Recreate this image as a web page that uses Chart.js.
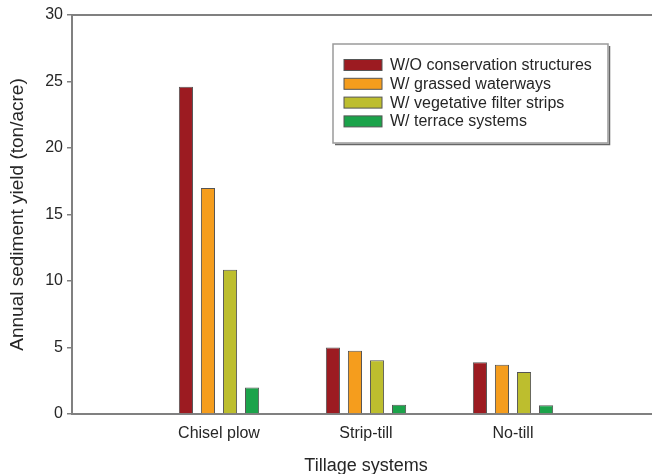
<!DOCTYPE html>
<html>
<head>
<meta charset="utf-8">
<script src="https://cdn.jsdelivr.net/npm/chart.js@4.4.1/dist/chart.umd.min.js"></script>
<style>
  html, body { margin: 0; padding: 0; background: #fff; overflow: hidden; }
  #wrap { position: relative; width: 664px; height: 474px; }
</style>
</head>
<body>
<div id="wrap"><canvas id="c"></canvas></div>
<script>
// Categories (empty slots at both ends give the outer margins of the axis)
const categories = ["", "Chisel plow", "Strip-till", "No-till", ""];
const seriesNames = [
  "W/O conservation structures",
  "W/ grassed waterways",
  "W/ vegetative filter strips",
  "W/ terrace systems"
];
const woConservation = [null, 24.6, 5.0, 3.9, null];
const grassedWaterways = [null, 17.0, 4.75, 3.7, null];
const vegetativeStrips = [null, 10.85, 4.05, 3.15, null];
const terraceSystems = [null, 2.0, 0.7, 0.65, null];
const yTicks = [0, 5, 10, 15, 20, 25, 30];

const colors = ["#9c1b21", "#f59d1d", "#bdbe2e", "#1ba34a"];
const seriesValues = [woConservation, grassedWaterways, vegetativeStrips, terraceSystems];

const FONT = "'Liberation Sans', Arial, Helvetica, sans-serif";
const TEXT = "#262626";
const AXIS = "#808080";

const boxLegend = {
  id: 'boxLegend',
  afterDraw(chart) {
    const ctx = chart.ctx;
    const x0 = 333, y0 = 44, w = 275, h = 99;
    ctx.save();
    ctx.strokeStyle = "#666";
    ctx.lineWidth = 1.5;
    ctx.beginPath();
    ctx.moveTo(x0 + w + 1.5, y0 + 2);
    ctx.lineTo(x0 + w + 1.5, y0 + h + 1.5);
    ctx.lineTo(x0 + 2, y0 + h + 1.5);
    ctx.stroke();
    ctx.strokeStyle = "#9a9a9a";
    ctx.lineWidth = 1.5;
    ctx.strokeRect(x0, y0, w, h);
    ctx.font = "16px " + FONT;
    ctx.textBaseline = "middle";
    ctx.textAlign = "left";
    chart.data.datasets.forEach((ds, i) => {
      const cy = 65 + i * 18.8;
      ctx.fillStyle = ds.backgroundColor;
      ctx.fillRect(344, cy - 5.5, 38, 11);
      ctx.strokeStyle = "#555";
      ctx.lineWidth = 1;
      ctx.strokeRect(344, cy - 5.5, 38, 11);
      ctx.fillStyle = TEXT;
      ctx.fillText(ds.label, 390, cy + 0.5);
    });
    ctx.restore();
  }
};

new Chart(document.getElementById('c'), {
  type: 'bar',
  data: {
    labels: categories,
    datasets: seriesNames.map((name, i) => ({
      label: name,
      data: seriesValues[i],
      backgroundColor: colors[i],
      borderColor: "#555",
      borderWidth: 1,
      barPercentage: 0.64,
      categoryPercentage: 0.6
    }))
  },
  options: {
    responsive: true,
    maintainAspectRatio: false,
    animation: false,
    devicePixelRatio: 1,
    layout: { padding: { top: 15, left: 0, right: 4, bottom: 0 } },
    plugins: { legend: { display: false }, tooltip: { enabled: false } },
    scales: {
      x: {
        type: 'category',
        offset: false,
        grid: { display: false },
        border: { display: true, color: AXIS, width: 2 },
        ticks: { color: TEXT, font: { family: FONT, size: 16 }, padding: 2, maxRotation: 0, autoSkip: false },
        title: { display: true, text: "Tillage systems", color: TEXT, font: { family: FONT, size: 18, lineHeight: 1.0 }, padding: { top: 0, bottom: -1 } },
        afterFit(s) { s.height = 60; }
      },
      xTop: {
        type: 'category',
        position: 'top',
        offset: false,
        grid: { display: false },
        border: { display: true, color: AXIS, width: 2 },
        ticks: { display: false },
        afterFit(s) { s.height = 0; }
      },
      y: {
        min: 0,
        max: 30,
        afterBuildTicks(s) { s.ticks = yTicks.map(v => ({ value: v })); },
        grid: { drawOnChartArea: false, drawTicks: true, tickLength: 5, color: AXIS, lineWidth: 1.5 },
        border: { display: true, color: AXIS, width: 2 },
        ticks: { color: TEXT, font: { family: FONT, size: 16 }, padding: 4 },
        title: { display: true, text: "Annual sediment yield (ton/acre)", color: TEXT, font: { family: FONT, size: 19 }, padding: { top: 6, bottom: 0 } },
        afterFit(s) { s.width = 72; }
      }
    }
  },
  plugins: [boxLegend]
});
</script>
</body>
</html>
